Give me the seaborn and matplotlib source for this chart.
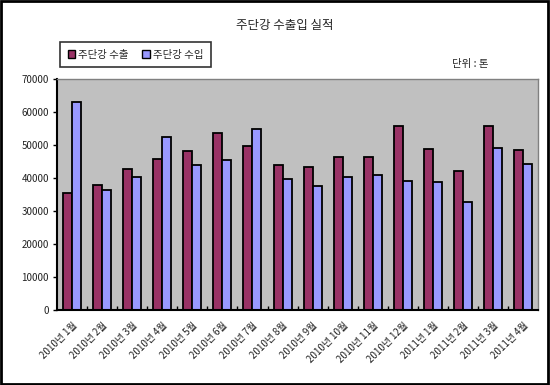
import matplotlib
matplotlib.use("Agg")
import matplotlib.pyplot as plt
import seaborn as sns
import pandas as pd
from matplotlib.patches import Patch, Rectangle
from matplotlib.ticker import FixedLocator

months = ["2010년 1월", "2010년 2월", "2010년 3월", "2010년 4월", "2010년 5월", "2010년 6월",
          "2010년 7월", "2010년 8월", "2010년 9월", "2010년 10월", "2010년 11월", "2010년 12월",
          "2011년 1월", "2011년 2월", "2011년 3월", "2011년 4월"]
export_vals = [35500, 37800, 42600, 45900, 48300, 53500, 49600, 44100,
               43300, 46500, 46400, 55700, 48800, 42200, 55700, 48600]
import_vals = [62900, 36500, 40200, 52400, 44100, 45400, 55000, 39600,
               37700, 40300, 40900, 39200, 38900, 32800, 49000, 44200]
series_names = ["주단강 수출", "주단강 수입"]
colors = ["#993366", "#9999FF"]
yticks = [0, 10000, 20000, 30000, 40000, 50000, 60000, 70000]

sns.set_theme(style="white")
plt.rcParams['font.family'] = ['Noto Sans CJK KR', 'DejaVu Sans']

df = pd.DataFrame({
    "month": months * 2,
    "value": export_vals + import_vals,
    "series": [series_names[0]] * len(months) + [series_names[1]] * len(months),
})

fig = plt.figure(figsize=(5.5, 3.85), dpi=100)
fig.patch.set_facecolor("white")
fig.patches.append(Rectangle((0.002, 0.003), 0.995, 0.994, transform=fig.transFigure,
                             fill=False, edgecolor="black", linewidth=2, zorder=10))
ax = fig.add_axes([0.104, 0.194, 0.874, 0.601])
ax.set_facecolor("#C0C0C0")

sns.barplot(data=df, x="month", y="value", hue="series", palette=colors,
            width=0.6, edgecolor="black", linewidth=1.3, ax=ax, legend=False,
            saturation=1)

ax.set_xlim(-0.5, len(months) - 0.5)
ax.set_ylim(0, 70000)
ax.set_yticks(yticks)
ax.set_yticklabels([str(v) for v in yticks], fontsize=7, color="#222222")
ax.set_xlabel("")
ax.set_ylabel("")
ax.set_xticks(range(len(months)))
ax.set_xticklabels(months, rotation=45, ha="right", rotation_mode="anchor",
                   fontsize=7, color="#222222")
ax.tick_params(axis="x", which="major", length=0, pad=7)
ax.xaxis.set_minor_locator(FixedLocator([i + 0.5 for i in range(len(months) - 1)]))
ax.tick_params(axis="x", which="minor", length=3, direction="in", color="black", width=1, bottom=True)
ax.tick_params(axis="y", which="major", length=3, direction="out", color="black", width=1, left=True, pad=3)

for side in ["top", "right"]:
    ax.spines[side].set_color("#808080")
    ax.spines[side].set_linewidth(1)
for side in ["left", "bottom"]:
    ax.spines[side].set_color("black")
    ax.spines[side].set_linewidth(1.5)

fig.text(0.518, 0.935, "주단강 수출입 실적", ha="center", va="center", fontsize=9)
fig.text(0.855, 0.834, "단위 : 톤", ha="center", va="center", fontsize=7.5)

handles = [Patch(facecolor=c, edgecolor="black", linewidth=1) for c in colors]
leg = fig.legend(handles, series_names, loc="center left", bbox_to_anchor=(0.109, 0.858),
                 ncol=2, fontsize=7.5, frameon=True, fancybox=False, handlelength=0.7,
                 handleheight=0.7, handletextpad=0.3, columnspacing=1.3,
                 borderpad=0.75, borderaxespad=0)
leg.get_frame().set_edgecolor("black")
leg.get_frame().set_linewidth(1.2)

fig.savefig("out.png", dpi=100)
